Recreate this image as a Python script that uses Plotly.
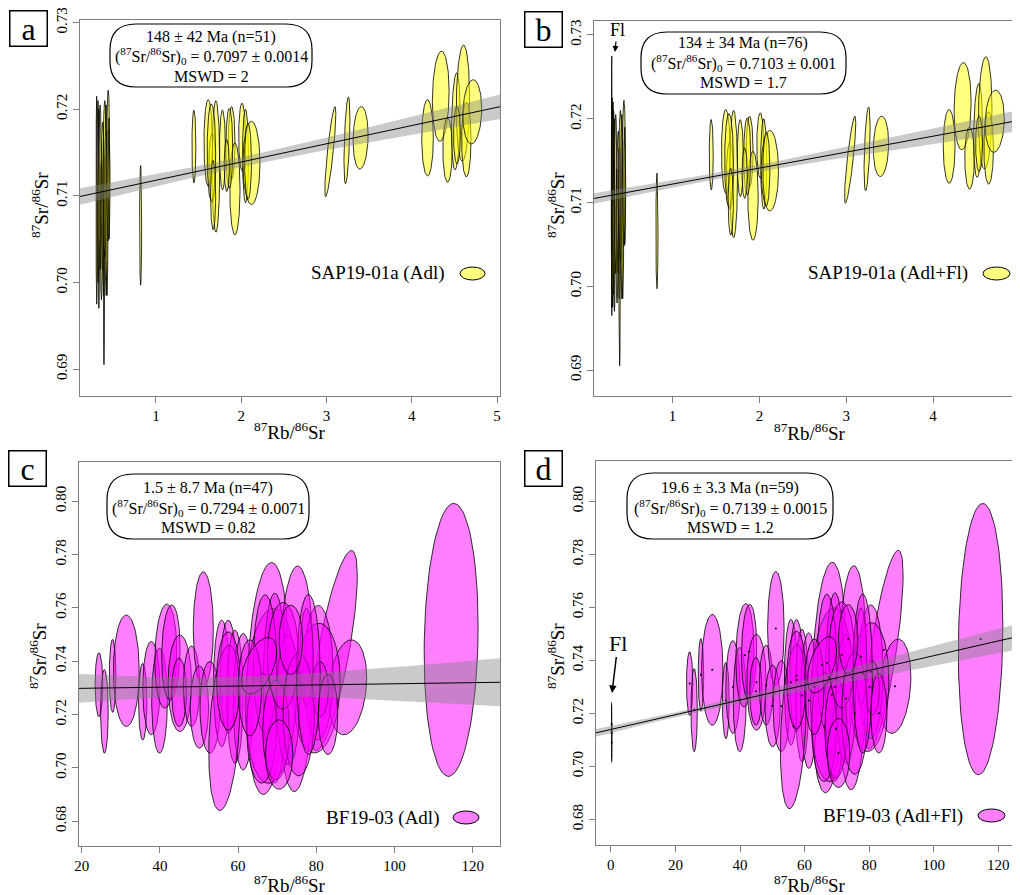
import numpy as np
import plotly.graph_objects as go

# the page body has an 8 px margin, so the figure is drawn 8 px smaller and
# every reference pixel position is shifted by that margin
OFF = 8
W, H = 1020 - OFF, 895 - OFF
LAMBDA_RB = 1.42e-11  # 87Rb decay constant, 1/yr

# ---------------- SAP19-01a adularia (panels a, b) ----------------
sap_adl_x = [0.305, 0.32, 0.33, 0.345, 0.36, 0.375, 0.385, 0.39, 0.40, 0.415, 0.425, 0.44, 0.45,
             0.82,
             1.445, 1.613, 1.66, 1.703, 1.78, 1.887, 1.926, 1.86, 2.01, 2.05, 2.12, 2.08, 1.65, 1.83, 1.67,
             3.045, 3.24, 3.40,
             4.185, 4.34, 4.42, 4.517, 4.60, 4.64, 4.71, 4.53]
sap_adl_y = [0.7095, 0.7105, 0.7085, 0.7110, 0.7060, 0.7100, 0.7075, 0.7025, 0.7120, 0.7095, 0.7080, 0.7135, 0.7120,
             0.7066,
             0.7157, 0.7161, 0.7132, 0.7134, 0.7153, 0.7161, 0.7108, 0.7155, 0.7168, 0.7146, 0.7138, 0.7140, 0.7150, 0.7135, 0.7101,
             0.7151, 0.7164, 0.7167,
             0.7167, 0.7215, 0.7153, 0.7186, 0.7207, 0.7165, 0.7197, 0.7170]
sap_adl_sx = [0.008, 0.012, 0.010, 0.015, 0.012, 0.018, 0.010, 0.008, 0.020, 0.015, 0.012, 0.018, 0.010,
              0.012,
              0.023, 0.050, 0.040, 0.045, 0.035, 0.040, 0.060, 0.040, 0.040, 0.035, 0.100, 0.040, 0.050, 0.030, 0.030,
              0.065, 0.035, 0.088,
              0.068, 0.098, 0.055, 0.050, 0.078, 0.055, 0.110, 0.040]
sap_adl_sy = [0.0120, 0.0105, 0.0115, 0.0095, 0.0080, 0.0085, 0.0090, 0.0120, 0.0090, 0.0110, 0.0095, 0.0087, 0.0070,
              0.0069,
              0.0042, 0.0050, 0.0040, 0.0076, 0.0046, 0.0042, 0.0053, 0.0046, 0.0039, 0.0054, 0.0048, 0.0044, 0.0056, 0.0030, 0.0040,
              0.0052, 0.0050, 0.0036,
              0.0044, 0.0052, 0.0037, 0.0056, 0.0067, 0.0043, 0.0037, 0.0033]
sap_adl_rho = [0.0] * 29 + [0.85, 0.5, 0.1] + [0.0, 0.1, 0.0, 0.2, 0.1, 0.0, 0.1, 0.0]

# SAP19-01a fluorite (panel b)
sap_fl_x = [0.300, 0.305, 0.310, 0.315, 0.320]
sap_fl_y = [0.7120, 0.7100, 0.7085, 0.7130, 0.7070]
sap_fl_sx = [0.006, 0.008, 0.010, 0.007, 0.009]
sap_fl_sy = [0.0155, 0.0125, 0.0110, 0.0090, 0.0080]
sap_fl_rho = [0.0, 0.0, 0.0, 0.0, 0.0]

# ---------------- BF19-03 adularia (panels c, d) ----------------
bf_adl_x = [24.4, 25.8, 27.9, 31.4, 35.6, 37.8, 39.9, 41.5, 42.8, 45.1, 44.9, 48.1, 51.1, 50.1, 52.8,
            55.8, 57.5, 59.2, 61.3, 67.5, 74.8, 84.5, 88.0, 80.5, 80.1, 68.4, 69.4, 66.9,
            72.8, 77.5, 81.0, 56.5, 66.0, 69.7, 57.5, 114.5, 71.5, 63.0, 75.5, 78.0, 70.5, 73.5, 83.0,
            65.4]
bf_adl_y = [0.7312, 0.7212, 0.7345, 0.7364, 0.7248, 0.7299, 0.7252, 0.7419, 0.7433, 0.7317, 0.7283, 0.7306, 0.7520, 0.7228, 0.7227,
            0.7317, 0.7342, 0.7267, 0.7248, 0.7335, 0.7334, 0.7440, 0.7302, 0.7357, 0.7299, 0.7270, 0.7299, 0.7390,
            0.7255, 0.7414, 0.7295, 0.7150, 0.7149, 0.7142, 0.7326, 0.7480, 0.7420, 0.7300, 0.7200, 0.7350, 0.7050, 0.7480, 0.7200,
            0.7383]
bf_adl_sx = [0.98, 0.98, 0.85, 3.3, 1.07, 2.2, 2.0, 2.8, 2.35, 3.0, 1.9, 2.1, 2.56, 2.35, 2.56,
             2.1, 2.1, 2.1, 2.56, 5.3, 4.5, 6.0, 4.9, 3.8, 6.0, 6.6, 3.0, 3.0,
             3.0, 1.7, 2.1, 4.0, 3.8, 3.4, 3.0, 6.9, 4.0, 3.0, 4.0, 3.0, 3.5, 3.0, 2.5,
             4.5]
bf_adl_sy = [0.0120, 0.0157, 0.0137, 0.0209, 0.0144, 0.0175, 0.0197, 0.0195, 0.0178, 0.0181, 0.0128, 0.0151, 0.0215, 0.0154, 0.0172,
             0.0237, 0.0212, 0.0250, 0.0256, 0.0435, 0.0423, 0.0375, 0.0178, 0.0252, 0.0243, 0.0328, 0.0356, 0.0259,
             0.0243, 0.0184, 0.0103, 0.0310, 0.0206, 0.0187, 0.0184, 0.0512, 0.0200, 0.0180, 0.0230, 0.0300, 0.0130, 0.0130, 0.0150,
             0.0106]
bf_adl_rho = [0.0, 0.0, 0.0, 0.0, 0.0, 0.0, 0.0, 0.1, 0.1, 0.0, 0.0, 0.0, 0.0, 0.0, 0.0,
              0.0, 0.0, 0.0, 0.0, 0.2, 0.1, 0.75, 0.2, 0.0, 0.1, 0.1, 0.0, 0.0,
              0.0, 0.0, 0.0, 0.3, 0.0, 0.0, 0.0, 0.1, 0.0, 0.0, 0.0, 0.0, 0.0, 0.0, 0.0,
              0.5]

# BF19-03 fluorite (panel d)
bf_fl_x = [0.20, 0.25, 0.30, 0.22]
bf_fl_y = [0.7160, 0.7130, 0.7090, 0.7125]
bf_fl_sx = [0.03, 0.04, 0.03, 0.03]
bf_fl_sy = [0.0083, 0.0100, 0.0073, 0.0110]
bf_fl_rho = [0.0, 0.0, 0.0, 0.0]

# ---------------- isochron results ----------------
iso_age_ma = [148, 134, 1.5, 19.6]
iso_i0 = [0.7097, 0.7103, 0.7294, 0.7139]
band_si = [1.0e-3, 0.66e-3, 7.23e-3, 1.3e-3]
band_ss = [0.423e-3, 0.346e-3, 0.1154e-3, 0.045e-3]
band_rho = [-0.83, -0.82, -0.878, -0.70]

panel_letters = ["a", "b", "c", "d"]
box_age = ["148 ± 42 Ma (n=51)", "134 ± 34 Ma (n=76)", "1.5 ± 8.7 Ma (n=47)", "19.6 ± 3.3 Ma (n=59)"]
box_i0 = ["0.7097 ± 0.0014", "0.7103 ± 0.001", "0.7294 ± 0.0071", "0.7139 ± 0.0015"]
box_mswd = ["2", "1.7", "0.82", "1.2"]
legend_labels = ["SAP19-01a (Adl)", "SAP19-01a (Adl+Fl)", "BF19-03 (Adl)", "BF19-03 (Adl+Fl)"]

xticks_ab = [1, 2, 3, 4, 5]
yticks_ab = [0.69, 0.70, 0.71, 0.72, 0.73]
xticks_c = [20, 40, 60, 80, 100, 120]
xticks_d = [0, 20, 40, 60, 80, 100, 120]
yticks_cd = [0.68, 0.70, 0.72, 0.74, 0.76, 0.78, 0.80]

# ---------------- layout geometry (reference pixels) ----------------
dom = [  # x0, x1, ytop, ybottom
    (80, 500, 20, 396),
    (594, 1020, 21, 396),
    (79, 500, 462, 846),
    (596, 1020, 461, 845),
]
xranges = [[0.109, 5.035], [0.095, 5.001], [19.3, 127.0], [-4.6, 126.7]]
yranges = [[0.6869, 0.7303], [0.6869, 0.73167], [0.6707, 0.8147], [0.6703, 0.8152]]

YELLOW = "rgba(255,255,0,0.5)"
MAGENTA = "rgba(255,0,255,0.5)"
BAND = "rgba(128,128,128,0.42)"
SERIF = "Liberation Serif"


def px(x):
    return (x - OFF) / W


def py(y):
    return 1 - (y - OFF) / H


def ellipse(cx, cy, sx, sy, rho, n=90):
    t = np.linspace(0, 2 * np.pi, n)
    ex = cx + sx * np.cos(t)
    ey = cy + sy * (rho * np.cos(t) + np.sqrt(1 - rho ** 2) * np.sin(t))
    return ex, ey


fig = go.Figure()


def add_ellipses(k, xs, ys, sxs, sys, rhos, color, dots=False, lw=0.8):
    ax = "" if k == 0 else str(k + 1)
    for cx, cy, sx, sy, r in zip(xs, ys, sxs, sys, rhos):
        ex, ey = ellipse(cx, cy, sx, sy, r)
        fig.add_trace(go.Scatter(x=ex, y=ey, mode="lines", fill="toself", fillcolor=color,
                                 line=dict(color="black", width=lw), hoverinfo="skip",
                                 showlegend=False, xaxis="x" + ax, yaxis="y" + ax))
    if dots:
        fig.add_trace(go.Scatter(x=xs, y=ys, mode="markers", marker=dict(color="black", size=2),
                                 hoverinfo="skip", showlegend=False, xaxis="x" + ax, yaxis="y" + ax))


def add_isochron(k):
    ax = "" if k == 0 else str(k + 1)
    slope = np.exp(LAMBDA_RB * iso_age_ma[k] * 1e6) - 1
    xg = np.linspace(xranges[k][0], xranges[k][1], 200)
    yl = iso_i0[k] + slope * xg
    si, ss, r = band_si[k], band_ss[k], band_rho[k]
    w = np.sqrt(np.maximum(si ** 2 + 2 * r * si * ss * xg + ss ** 2 * xg ** 2, 0))
    fig.add_trace(go.Scatter(x=np.concatenate([xg, xg[::-1]]), y=np.concatenate([yl + w, (yl - w)[::-1]]),
                             mode="lines", fill="toself", fillcolor=BAND, line=dict(width=0),
                             hoverinfo="skip", showlegend=False, xaxis="x" + ax, yaxis="y" + ax))
    fig.add_trace(go.Scatter(x=xg, y=yl, mode="lines", line=dict(color="black", width=1),
                             hoverinfo="skip", showlegend=False, xaxis="x" + ax, yaxis="y" + ax))


# panel a
add_ellipses(0, sap_adl_x, sap_adl_y, sap_adl_sx, sap_adl_sy, sap_adl_rho, YELLOW)
add_isochron(0)
# panel b
add_ellipses(1, sap_adl_x, sap_adl_y, sap_adl_sx, sap_adl_sy, sap_adl_rho, YELLOW)
add_ellipses(1, sap_fl_x, sap_fl_y, sap_fl_sx, sap_fl_sy, sap_fl_rho, YELLOW)
add_isochron(1)
# panel c
add_ellipses(2, bf_adl_x, bf_adl_y, bf_adl_sx, bf_adl_sy, bf_adl_rho, MAGENTA)
add_isochron(2)
# panel d
add_ellipses(3, bf_adl_x, bf_adl_y, bf_adl_sx, bf_adl_sy, bf_adl_rho, MAGENTA, dots=True)
add_ellipses(3, bf_fl_x, bf_fl_y, bf_fl_sx, bf_fl_sy, bf_fl_rho, MAGENTA, dots=True, lw=0.4)
add_isochron(3)

layout = dict(width=W, height=H, margin=dict(l=0, r=0, t=0, b=0, pad=0, autoexpand=False),
              paper_bgcolor="white", plot_bgcolor="white", showlegend=False,
              font=dict(family=SERIF, color="black"))

xtv = [xticks_ab, xticks_ab, xticks_c, xticks_d]
ytv = [yticks_ab, yticks_ab, yticks_cd, yticks_cd]
for k in range(4):
    ax = "" if k == 0 else str(k + 1)
    x0, x1, yt, yb = dom[k]
    common = dict(showline=True, linecolor="#7f7f7f", linewidth=1, ticks="outside", ticklen=6,
                  tickcolor="#7f7f7f", tickwidth=1, showgrid=False, zeroline=False, automargin=False,
                  ticklabeloverflow="allow",
                  tickfont=dict(family=SERIF, size=15, color="black"))
    layout["xaxis" + ax] = dict(common, domain=[px(x0), min(px(x1), 1.0)], range=xranges[k], tickvals=xtv[k],
                                anchor="y" + ax, mirror=True)
    layout["yaxis" + ax] = dict(common, domain=[py(yb), py(yt)], range=yranges[k], tickvals=ytv[k],
                                tickformat=".2f", tickangle=-90, anchor="x" + ax,
                                mirror=(k in (0, 2)))
fig.update_layout(**layout)

# ---------------- annotations / shapes ----------------
shapes = []
annots = []


def rounded_box(x0, y0, x1, y1, r):
    pts = [("M", [(x0 + r, y0)]), ("L", [(x1 - r, y0)]), ("Q", [(x1, y0), (x1, y0 + r)]),
           ("L", [(x1, y1 - r)]), ("Q", [(x1, y1), (x1 - r, y1)]), ("L", [(x0 + r, y1)]),
           ("Q", [(x0, y1), (x0, y1 - r)]), ("L", [(x0, y0 + r)]), ("Q", [(x0, y0), (x0 + r, y0)])]
    s = ""
    for cmd, pp in pts:
        s += cmd + " " + " ".join(f"{px(a):.5f},{py(b):.5f}" for a, b in pp) + " "
    return s + "Z"


boxes = [(110, 24, 312, 87), (641, 32, 846, 94), (107, 474, 309, 539), (627, 473, 833, 539)]
box_cx = [211, 743, 208, 730]
box_lines_y = [(37, 56.5, 76), (43.5, 63, 82.5), (488, 507.5, 527), (488, 507.5, 527)]
letter_pos = [(28, 29), (543, 30), (27.5, 468.5), (543, 468.5)]
legend_pos = [(447, 273, 460, 485, 267, 280), (970, 273, 983, 1010, 267, 280),
              (441, 818, 453, 479, 811, 824), (965, 816, 978, 1005, 809, 822)]
xtitle_pos = [(290, 431), (810, 432), (290, 884), (810, 884)]
ytitle_pos = [(40, 205), (556, 205), (38, 656), (556, 656)]
legend_fill = [YELLOW, YELLOW, MAGENTA, MAGENTA]

for k in range(4):
    shapes.append(dict(type="path", xref="paper", yref="paper", path=rounded_box(*boxes[k], 26),
                       line=dict(color="black", width=1.2), fillcolor="white", layer="above"))
    lines = [box_age[k],
             "(<sup>87</sup>Sr/<sup>86</sup>Sr)<sub>0</sub> = " + box_i0[k],
             "MSWD = " + box_mswd[k]]
    for t, yy in zip(lines, box_lines_y[k]):
        annots.append(dict(text=t, x=px(box_cx[k]), y=py(yy), xref="paper", yref="paper",
                           showarrow=False, xanchor="center", yanchor="middle",
                           font=dict(family=SERIF, size=16, color="black")))
    lx, ly = letter_pos[k]
    annots.append(dict(text=panel_letters[k], x=px(lx), y=py(ly), xref="paper", yref="paper",
                       showarrow=False, xanchor="center", yanchor="middle", width=34, height=32,
                       bordercolor="black", borderwidth=1.5, borderpad=1, bgcolor="white",
                       font=dict(family=SERIF, size=32, color="black")))
    tx, ty, ex0, ex1, ey0, ey1 = legend_pos[k]
    annots.append(dict(text=legend_labels[k], x=px(tx), y=py(ty), xref="paper", yref="paper",
                       showarrow=False, xanchor="right", yanchor="middle",
                       font=dict(family=SERIF, size=19, color="black")))
    shapes.append(dict(type="circle", xref="paper", yref="paper", x0=px(ex0), x1=px(ex1),
                       y0=py(ey1), y1=py(ey0), fillcolor=legend_fill[k],
                       line=dict(color="black", width=1)))
    xx, xy = xtitle_pos[k]
    annots.append(dict(text="<sup>87</sup>Rb/<sup>86</sup>Sr", x=px(xx), y=py(xy), xref="paper",
                       yref="paper", showarrow=False, xanchor="center", yanchor="middle",
                       font=dict(family=SERIF, size=19, color="black")))
    yx, yy = ytitle_pos[k]
    annots.append(dict(text="<sup>87</sup>Sr/<sup>86</sup>Sr", x=px(yx), y=py(yy), xref="paper",
                       yref="paper", showarrow=False, xanchor="center", yanchor="middle",
                       textangle=-90, font=dict(family=SERIF, size=19, color="black")))

# Fl arrows
annots.append(dict(text="Fl", x=px(615), y=py(52), xref="paper", yref="paper", showarrow=True,
                   ax=2, ay=-22, arrowhead=2, arrowsize=1, arrowwidth=1.2, arrowcolor="black",
                   font=dict(family=SERIF, size=18, color="black")))
annots.append(dict(text="Fl", x=px(612), y=py(693), xref="paper", yref="paper", showarrow=True,
                   ax=6, ay=-50, arrowhead=2, arrowsize=1, arrowwidth=1.5, arrowcolor="black",
                   font=dict(family=SERIF, size=22, color="black")))

fig.update_layout(shapes=shapes, annotations=annots)
fig.write_html("out.html")
